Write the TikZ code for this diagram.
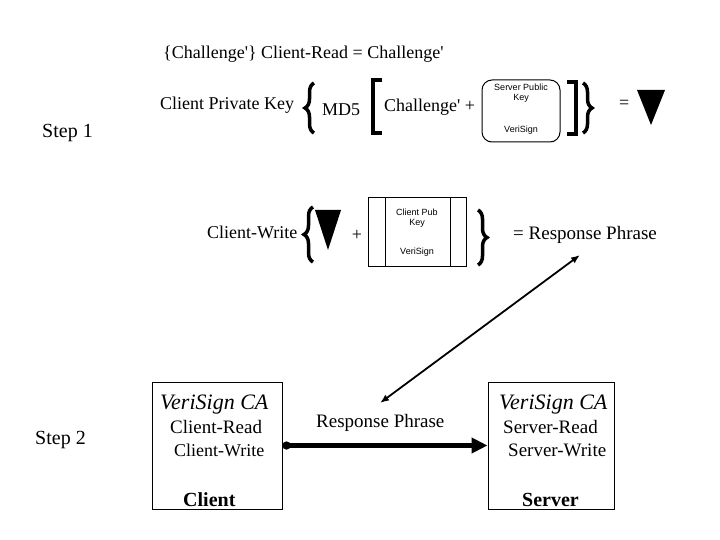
\documentclass[tikz,border=0pt]{standalone}
\usepackage{fontspec}
\setmainfont{Liberation Serif}
\newfontfamily\keyfont{Liberation Sans}
\usetikzlibrary{positioning,arrows.meta,decorations.pathreplacing}
\newcommand{\q}{\textquotesingle}

\begin{document}
\begin{tikzpicture}[x=1pt,y=-1pt, every node/.style={inner sep=0pt,anchor=west,font=\fontsize{18}{20}\selectfont},
  keytext/.style={anchor=center,align=center,font=\keyfont\fontsize{9}{9.5}\selectfont},
  catext/.style={font=\itshape\fontsize{22}{24}\selectfont},
  hosttext/.style={font=\bfseries\fontsize{20}{22}\selectfont},
  bigbrace/.style={decorate,decoration={brace,amplitude=9pt},line width=3.5pt},
  sqbar/.style={line width=4.5pt},
  hostbox/.style={draw,anchor=center,line width=1pt}]
\useasboundingbox (0,0) rectangle (720,540);
% step 1
\node[font=\fontsize{20}{22}\selectfont] (s1) at (42,133) {Step 1};
\node (hint) at (163,54) {\{Challenge\q\} Client-Read = Challenge\q};
\node (cpk) at (160,105) {Client Private Key}; \node (md5) at (322,110) {MD5}; \node (chal) at (384,107) {Challenge\q{} +};
\node[draw,rounded corners=10pt,line width=1pt,anchor=center,minimum width=78pt,minimum height=62pt] (spk) at (521,111) {};
\node[keytext] (spkname) at (521,93) {Server Public\\Key}; \node[keytext] (spkca) at (521,130) {VeriSign};
\node (eq1) at (619,104) {=};
\fill (637,90) -- (665,90) -- (651,125) -- cycle;
\draw[bigbrace] (314,133) -- (314,83); \draw[bigbrace] (583,83) -- (583,133);
\draw[sqbar] (382,80) -- (373,80) -- (373,133) -- (382,133);
\draw[sqbar] (567,82) -- (576,82) -- (576,134) -- (567,134);
% second line
\node (cw) at (207,232) {Client-Write};
\fill (315,210) -- (341,210) -- (328,250) -- cycle;
\node[anchor=center] (plus) at (357,235) {+};
\node[draw,anchor=center,line width=1pt,minimum width=98pt,minimum height=68pt] (cpub) at (417,232) {};
\draw[line width=1pt] (385,198) -- (385,266) (450,198) -- (450,266);
\node[keytext] (cpubname) at (417,218) {Client Pub\\Key}; \node[keytext] (cpubca) at (417,252) {VeriSign};
\draw[bigbrace] (313,262) -- (313,207); \draw[bigbrace] (478,210) -- (478,265);
\node[font=\fontsize{19}{21}\selectfont] (rp) at (513,235) {= Response Phrase};
% step 2
\node[font=\fontsize{20}{22}\selectfont] (s2) at (35,440) {Step 2};
\node[hostbox,minimum width=130pt,minimum height=127pt] (client) at (217,445.5) {};
\node[hostbox,minimum width=126pt,minimum height=127pt] (server) at (551,445.5) {};
\node[catext] (cca) at (160,405) {VeriSign CA}; \node[font=\fontsize{19}{21}\selectfont] (cr) at (170,427) {Client-Read};
\node (cwr) at (174,450) {Client-Write}; \node[hosttext] (cname) at (183,500) {Client};
\node[catext] (sca) at (499,405) {VeriSign CA}; \node[font=\fontsize{19}{21}\selectfont] (sr) at (503,427) {Server-Read};
\node[font=\fontsize{19}{21}\selectfont] (sw) at (508,450) {Server-Write}; \node[hosttext] (sname) at (522,500) {Server};
\node[font=\fontsize{19}{21}\selectfont] (rp2) at (316,423) {Response Phrase};
\draw[line width=5pt,{Circle[length=8pt]}-{Triangle[length=16pt,width=15pt]}] (client.east) -- (server.west);
\coordinate (rtop) at (580,255); \coordinate (rbot) at (380,403);
\draw[line width=1.8pt,{Latex[length=9pt,width=7pt]}-{Latex[length=9pt,width=7pt]}] (rbot) -- (rtop);
\end{tikzpicture}
\end{document}
